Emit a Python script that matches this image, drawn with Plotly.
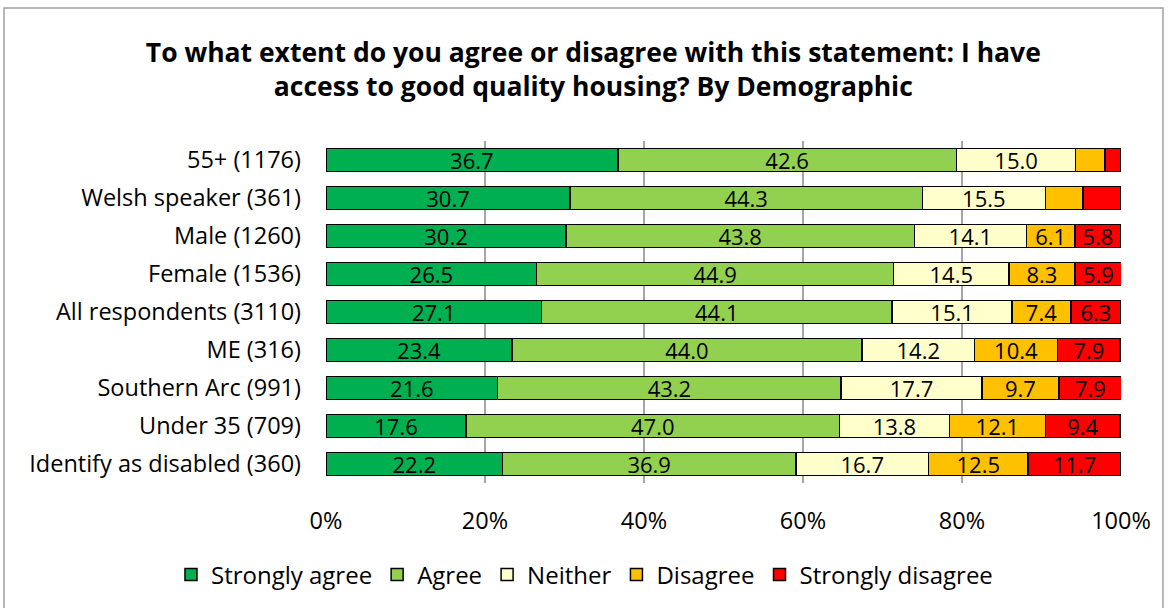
import plotly.graph_objects as go

categories = [
    "55+ (1176)", "Welsh speaker (361)", "Male (1260)", "Female (1536)",
    "All respondents (3110)", "ME (316)", "Southern Arc (991)",
    "Under 35 (709)", "Identify as disabled (360)",
]
strongly_agree = [36.7, 30.7, 30.2, 26.5, 27.1, 23.4, 21.6, 17.6, 22.2]
agree = [42.6, 44.3, 43.8, 44.9, 44.1, 44.0, 43.2, 47.0, 36.9]
neither = [15.0, 15.5, 14.1, 14.5, 15.1, 14.2, 17.7, 13.8, 16.7]
disagree = [3.7, 4.7, 6.1, 8.3, 7.4, 10.4, 9.7, 12.1, 12.5]
strongly_disagree = [2.0, 4.8, 5.8, 5.9, 6.3, 7.9, 7.9, 9.4, 11.7]

series = [
    ("Strongly agree", strongly_agree, "#00B050"),
    ("Agree", agree, "#92D050"),
    ("Neither", neither, "#FFFFCC"),
    ("Disagree", disagree, "#FFC000"),
    ("Strongly disagree", strongly_disagree, "#FF0000"),
]

FONT = "'Open Sans', Lato, sans-serif"

fig = go.Figure()
for name, vals, colour in series:
    # small segments carry no label in the original
    labels = [f"{v:.1f}" if v >= 5 else "" for v in vals]
    fig.add_trace(go.Bar(
        y=categories, x=vals, name=name, orientation="h",
        marker=dict(color=colour, line=dict(color="black", width=1.5)),
        text=labels, textposition="inside", insidetextanchor="middle",
        textfont=dict(color="black", size=22, family=FONT),
        textangle=0, constraintext="none",
    ))

fig.update_layout(
    barmode="stack", bargap=0.4,
    width=1168, height=608,
    margin=dict(l=326, r=47, t=141, b=125, autoexpand=False),
    plot_bgcolor="white", paper_bgcolor="white",
    font=dict(family=FONT, size=23.5, color="black"),
    title=dict(
        text="<b>To what extent do you agree or disagree with this statement: I have<br>access to good quality housing? By Demographic</b>",
        x=0.508, xanchor="center", y=0.898, yanchor="middle",
        font=dict(size=26.5, family=FONT, color="black"),
    ),
    legend=dict(
        orientation="h", x=-0.195, xanchor="left", y=-0.269, yanchor="middle",
        font=dict(size=24, family=FONT), traceorder="normal",
        itemwidth=30,
    ),
    uniformtext=dict(mode="show", minsize=10),
    showlegend=True,
)
fig.update_xaxes(
    range=[0, 100], tickvals=[0, 20, 40, 60, 80, 100],
    ticktext=["0%", "20%", "40%", "60%", "80%", "100%"],
    showgrid=True, gridcolor="#A6A6A6", gridwidth=1.5,
    zeroline=False, showline=False, ticks="", ticklabelstandoff=21,
)
fig.update_yaxes(
    autorange="reversed", showgrid=False, showline=False, ticks="",
    ticklabelstandoff=24,
)
fig.add_shape(
    type="rect", xref="paper", yref="paper",
    x0=-0.405, x1=1.0528, y0=-0.42, y1=1.389,
    line=dict(color="#A0A0A0", width=1.5), fillcolor="rgba(0,0,0,0)",
    layer="below",
)

fig.write_html(
    "out.html",
    config={"displayModeBar": False},
    post_script="document.body.style.margin='0';",
)
